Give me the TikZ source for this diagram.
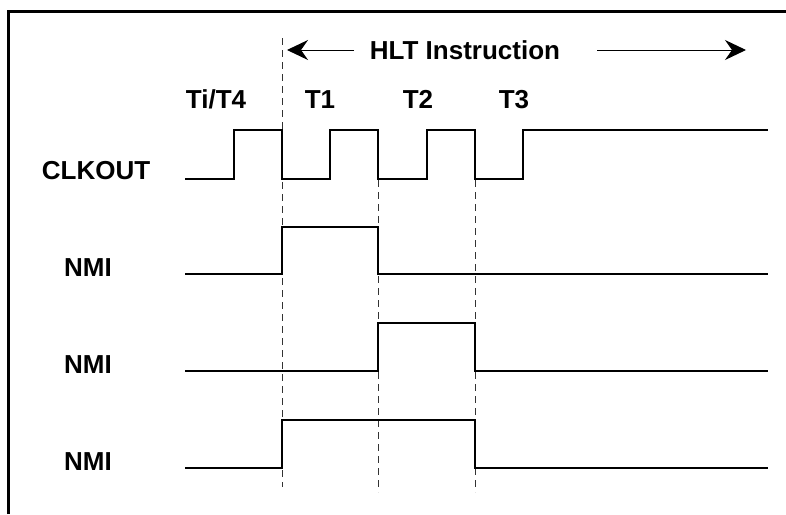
\documentclass[tikz,border=0pt]{standalone}
\usepackage{fontspec}
\setmainfont{Liberation Sans}
\usetikzlibrary{arrows.meta}

\begin{document}
\begin{tikzpicture}[x=0.5pt,y=-0.5pt]
		\useasboundingbox (0,0) rectangle (786,514);
		\draw[line width=1.5pt] (8,514) -- (8,11) -- (786,11);

		\begin{scope}[every node/.style={font=\bfseries\fontsize{13}{15}\selectfont,inner sep=0pt,anchor=base}]
		\node (hlt) at (465,59) {HLT Instruction};
		\node (tit4) at (216,108) {Ti/T4};
		\node (tone) at (320,108) {T1};
		\node (ttwo) at (418,108) {T2};
		\node (tthree) at (514,108) {T3};
		\node (clk) at (96,179) {CLKOUT};
		\node (nmiA) at (88,276) {NMI};
		\node (nmiB) at (88,373) {NMI};
		\node (nmiC) at (88,470) {NMI};
		\end{scope}

		\begin{scope}[>={Stealth[length=10.5pt,width=10pt,inset=3.5pt]},
		every path/.style={line width=0.5pt}]
		\coordinate (hltL) at (287,50);
		\coordinate (hltR) at (746,50);
		\coordinate (hltA) at (354,50);
		\coordinate (hltB) at (597,50);
		\path [->] (hltA) edge (hltL);
		\path [->] (hltB) edge (hltR);
		\end{scope}

		% timing lines
		\begin{scope}[every path/.style={draw=black!80,line width=0.5pt,dash pattern=on 3.5pt off 2.5pt}]
		\path (282,38) -- (282,487);
		\path (378,180) -- (378,492);
		\path (475,180) -- (475,492);
		\end{scope}

		% signals
		\begin{scope}[every path/.style={draw=black,line width=0.75pt}]
		\path (185,179) -- (234,179) -- (234,130) -- (282,130) -- (282,179) -- (330,179) -- (330,130) -- (378,130) -- (378,179) -- (427,179) -- (427,130) -- (475,130) -- (475,179) -- (523,179) -- (523,130) -- (768,130);
		\path (185,274) -- (282,274) -- (282,227) -- (378,227) -- (378,274) -- (768,274);
		\path (185,371) -- (378,371) -- (378,323) -- (475,323) -- (475,371) -- (768,371);
		\path (185,468) -- (282,468) -- (282,420) -- (475,420) -- (475,468) -- (768,468);
		\end{scope}
\end{tikzpicture}
\end{document}
